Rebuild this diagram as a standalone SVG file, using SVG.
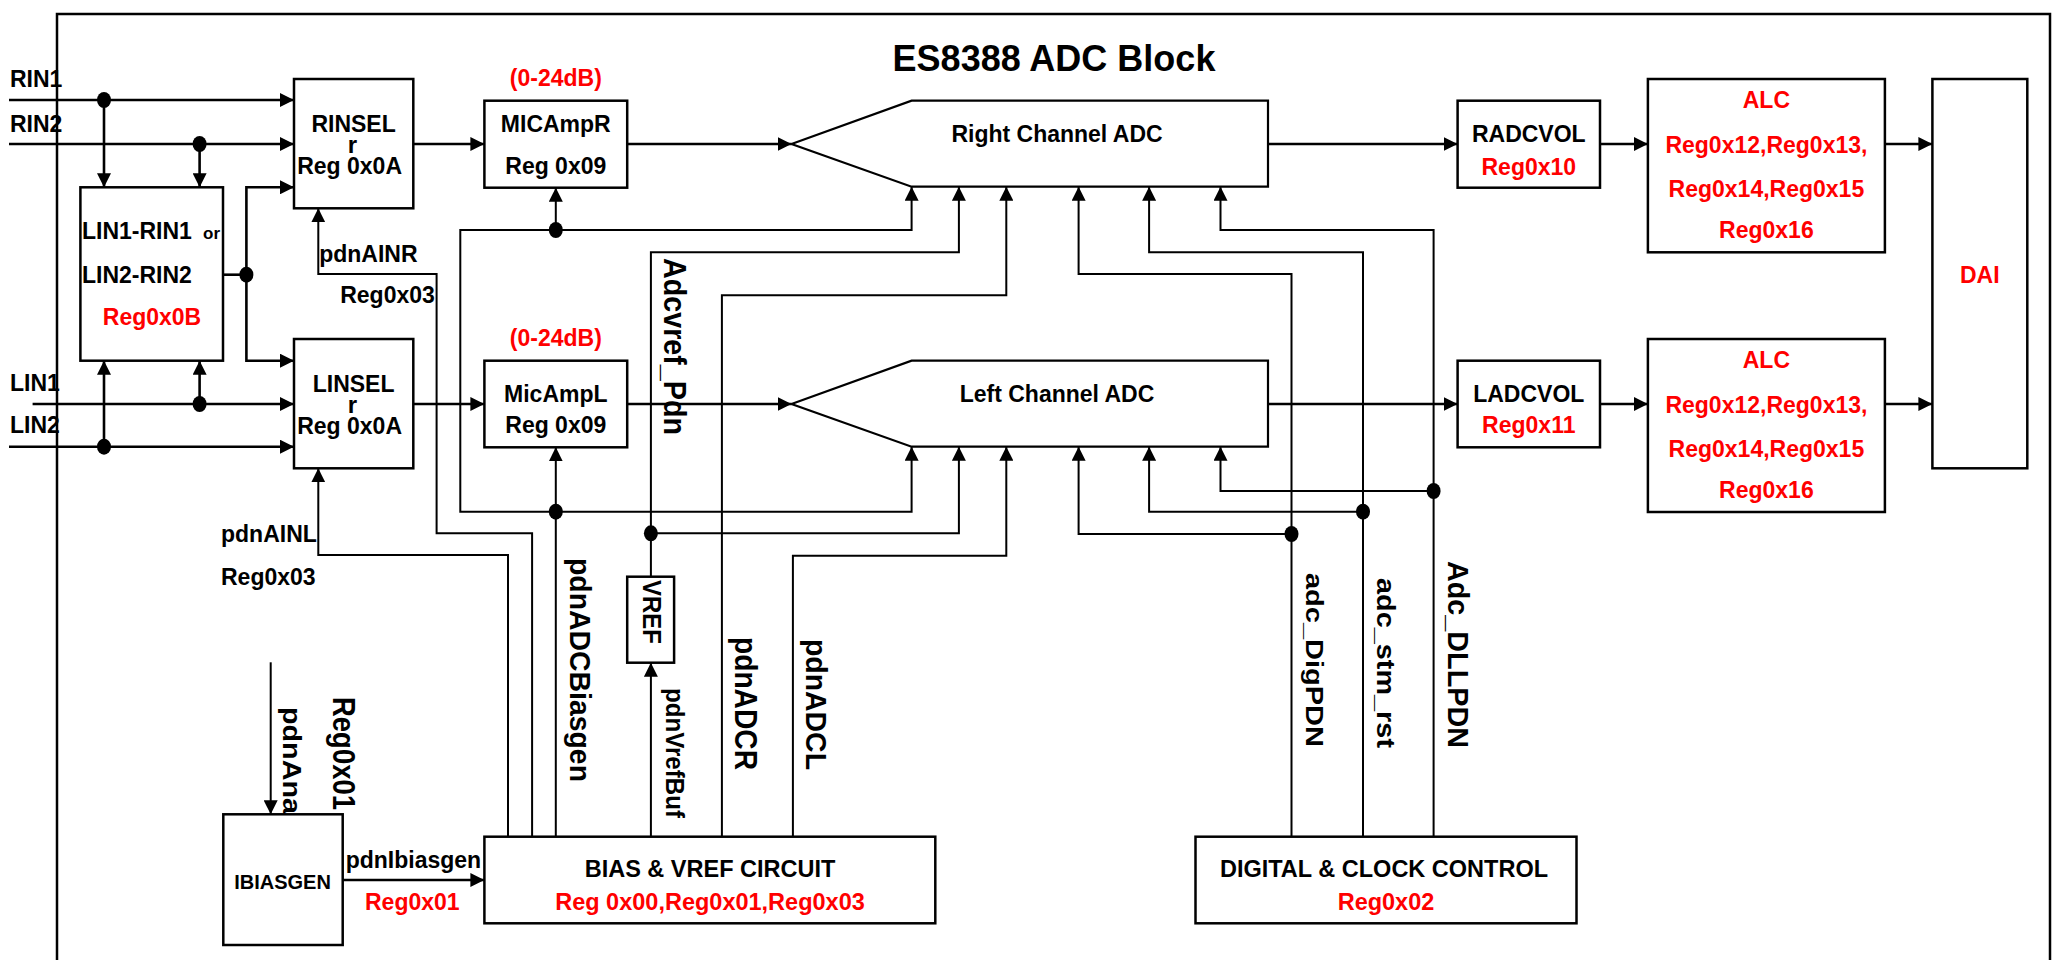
<svg xmlns="http://www.w3.org/2000/svg" width="2059" height="960" viewBox="0 0 2059 960">
<style>
.bx{fill:#fff;stroke:#000;stroke-width:2.5}
.t{font-family:"Liberation Sans",Arial,Helvetica,sans-serif;font-weight:bold;font-size:23px;fill:#000}
.m{text-anchor:middle}
.red{fill:#f00}
.sig{fill:none;stroke:#000;stroke-width:2.6}
.ctl{fill:none;stroke:#000;stroke-width:2}
.arr{marker-end:url(#ah)}
.dot{fill:#000}
</style>
<defs>
<marker id="ah" markerUnits="userSpaceOnUse" markerWidth="15" markerHeight="14" refX="14" refY="7" orient="auto">
<path d="M0,0 L14,7 L0,14 z" fill="#000"/>
</marker>
</defs>
<rect x="0" y="0" width="2059" height="960" fill="#fff"/>
<rect id="frame" x="57" y="14" width="1993" height="1000" fill="none" stroke="#000" stroke-width="2.5"/>
<text class="t m" x="1054" y="71" style="font-size:36px">ES8388 ADC Block</text>

<g id="inputs">
<text class="t" x="10" y="87">RIN1</text>
<text class="t" x="10" y="131.7">RIN2</text>
<text class="t" x="10" y="390.7">LIN1</text>
<text class="t" x="10" y="433.3">LIN2</text>
</g>

<g id="connectors">
<path class="sig arr" d="M9,100 H294"/>
<path class="sig arr" d="M9,144 H294"/>
<path class="sig arr" d="M104,100 V187.3"/>
<path class="sig arr" d="M199.6,144 V187.3"/>
<path class="sig arr" d="M32.6,404 H294"/>
<path class="sig arr" d="M9,446.7 H294"/>
<path class="sig arr" d="M199.6,404 V360.7"/>
<path class="sig arr" d="M104,446.7 V360.7"/>
<path class="sig" d="M223,274.7 H246.4"/>
<path class="sig arr" d="M246.4,274.7 V187.3 H294"/>
<path class="sig arr" d="M246.4,274.7 V360.7 H294"/>
<path class="sig arr" d="M413.3,144 H484.4"/>
<path class="sig arr" d="M413.3,404 H484.4"/>
<path class="sig arr" d="M627.2,144 H791.5"/>
<path class="sig arr" d="M627.2,404 H791.5"/>
<path class="sig arr" d="M1268,144 H1457.6"/>
<path class="sig arr" d="M1268,404 H1457.6"/>
<path class="sig arr" d="M1600,144 H1647.9"/>
<path class="sig arr" d="M1600,404 H1647.9"/>
<path class="sig arr" d="M1884.9,144 H1932.4"/>
<path class="sig arr" d="M1884.9,404 H1932.4"/>
<path class="sig arr" d="M342.7,880 H484.4"/>
<path class="ctl arr" d="M270.7,662.3 V814.3"/>

<path class="ctl arr" d="M532.1,836.7 V533.3 H436.6 V274 H318.3 V208.3"/>
<path class="ctl arr" d="M508,836.7 V555 H318.3 V468.3"/>

<path class="ctl arr" d="M555.8,836.7 V447.3"/>
<path class="ctl arr" d="M555.8,511.7 H460.3 V230 H911.6 V186.7"/>
<path class="ctl arr" d="M555.8,230 V187.7"/>
<path class="ctl arr" d="M555.8,511.7 H911.6 V446.7"/>

<path class="ctl arr" d="M650.9,576.7 V252.3 H958.9 V186.7"/>
<path class="ctl arr" d="M650.9,533.3 H958.9 V446.7"/>
<path class="ctl arr" d="M650.9,836.7 V662.7"/>

<path class="ctl arr" d="M721.9,836.7 V295.3 H1006.3 V186.7"/>
<path class="ctl arr" d="M792.9,836.7 V555.7 H1006.3 V446.7"/>

<path class="ctl arr" d="M1291.5,836.7 V274 H1078.6 V186.7"/>
<path class="ctl arr" d="M1291.5,534 H1078.6 V446.7"/>
<path class="ctl arr" d="M1363,836.7 V252.3 H1149.1 V186.7"/>
<path class="ctl arr" d="M1363,511.7 H1149.1 V446.7"/>
<path class="ctl arr" d="M1433.6,836.7 V230 H1220.5 V186.7"/>
<path class="ctl arr" d="M1433.6,491 H1220.5 V446.7"/>

<ellipse class="dot" cx="104" cy="100" rx="7" ry="8"/>
<ellipse class="dot" cx="199.6" cy="144" rx="7" ry="8"/>
<ellipse class="dot" cx="246.4" cy="274.7" rx="7" ry="8"/>
<ellipse class="dot" cx="199.6" cy="404" rx="7" ry="8"/>
<ellipse class="dot" cx="104" cy="446.7" rx="7" ry="8"/>
<ellipse class="dot" cx="555.8" cy="230" rx="7" ry="8"/>
<ellipse class="dot" cx="555.8" cy="511.7" rx="7" ry="8"/>
<ellipse class="dot" cx="650.9" cy="533.3" rx="7" ry="8"/>
<ellipse class="dot" cx="1291.5" cy="534" rx="7" ry="8"/>
<ellipse class="dot" cx="1363" cy="511.7" rx="7" ry="8"/>
<ellipse class="dot" cx="1433.6" cy="491" rx="7" ry="8"/>
</g>

<g id="mux">
<rect class="bx" x="80.4" y="187.3" width="142.6" height="173.4"/>
<text class="t" x="82" y="239.3">LIN1-RIN1</text>
<text class="t" x="203" y="239.3" style="font-size:17px">or</text>
<text class="t" x="82" y="282.7">LIN2-RIN2</text>
<text class="t m red" x="152" y="325">Reg0x0B</text>
</g>

<g id="rinsel">
<rect class="bx" x="294" y="79" width="119.3" height="129.3"/>
<text class="t m" x="353.6" y="131.7">RINSEL</text>
<text class="t m" x="352.3" y="153.3" style="font-size:24px">r</text>
<text class="t m" x="349.6" y="174">Reg 0x0A</text>
</g>
<g id="linsel">
<rect class="bx" x="294" y="339" width="119.3" height="129.3"/>
<text class="t m" x="353.6" y="391.7">LINSEL</text>
<text class="t m" x="352.3" y="413.3" style="font-size:24px">r</text>
<text class="t m" x="349.6" y="433.5">Reg 0x0A</text>
</g>

<g id="micampr">
<text class="t m red" x="555.8" y="86">(0-24dB)</text>
<rect class="bx" x="484.4" y="100.7" width="142.8" height="87"/>
<text class="t m" x="555.8" y="131.7">MICAmpR</text>
<text class="t m" x="555.8" y="174">Reg 0x09</text>
</g>
<g id="micampl">
<text class="t m red" x="555.8" y="346">(0-24dB)</text>
<rect class="bx" x="484.4" y="360.7" width="142.8" height="86.6"/>
<text class="t m" x="555.8" y="401.7">MicAmpL</text>
<text class="t m" x="555.8" y="433.3">Reg 0x09</text>
</g>

<g id="radc">
<polygon class="bx" style="stroke-width:2.2" points="791.5,144 911.6,100.7 1268,100.7 1268,186.7 911.6,186.7"/>
<text class="t m" x="1057" y="141.7">Right Channel ADC</text>
</g>
<g id="ladc">
<polygon class="bx" style="stroke-width:2.2" points="791.5,404 911.6,360.7 1268,360.7 1268,446.7 911.6,446.7"/>
<text class="t m" x="1057" y="401.7">Left Channel ADC</text>
</g>

<g id="radcvol">
<rect class="bx" x="1457.6" y="100.7" width="142.4" height="87"/>
<text class="t m" x="1528.8" y="141.7">RADCVOL</text>
<text class="t m red" x="1528.8" y="175">Reg0x10</text>
</g>
<g id="ladcvol">
<rect class="bx" x="1457.6" y="360.7" width="142.4" height="86.6"/>
<text class="t m" x="1528.8" y="401.7">LADCVOL</text>
<text class="t m red" x="1528.8" y="433.3">Reg0x11</text>
</g>

<g id="alcr">
<rect class="bx" x="1647.9" y="79" width="237" height="173.3"/>
<text class="t m red" x="1766.4" y="108.3">ALC</text>
<text class="t m red" x="1766.4" y="153.3">Reg0x12,Reg0x13,</text>
<text class="t m red" x="1766.4" y="196.7">Reg0x14,Reg0x15</text>
<text class="t m red" x="1766.4" y="238.3">Reg0x16</text>
</g>
<g id="alcl">
<rect class="bx" x="1647.9" y="339" width="237" height="173"/>
<text class="t m red" x="1766.4" y="368.3">ALC</text>
<text class="t m red" x="1766.4" y="413.3">Reg0x12,Reg0x13,</text>
<text class="t m red" x="1766.4" y="456.7">Reg0x14,Reg0x15</text>
<text class="t m red" x="1766.4" y="498.3">Reg0x16</text>
</g>

<g id="dai">
<rect class="bx" x="1932.4" y="79" width="94.9" height="389.3"/>
<text class="t m red" x="1979.8" y="282.7">DAI</text>
</g>

<g id="vref">
<rect class="bx" x="627.2" y="576.7" width="46.9" height="86"/>
<text class="t" transform="translate(643,580) rotate(90)" style="font-size:26px" textLength="64" lengthAdjust="spacingAndGlyphs">VREF</text>
</g>

<g id="ibiasgen">
<rect class="bx" x="223.3" y="814.3" width="119.4" height="130.7"/>
<text class="t m" x="282.5" y="889.3" style="font-size:20px">IBIASGEN</text>
</g>

<g id="bias">
<rect class="bx" x="484.4" y="836.7" width="450.9" height="86.6"/>
<text class="t m" x="710" y="876.7" style="font-size:23.5px">BIAS &amp; VREF CIRCUIT</text>
<text class="t m red" x="710" y="910" style="font-size:23.5px">Reg 0x00,Reg0x01,Reg0x03</text>
</g>

<g id="digital">
<rect class="bx" x="1195.5" y="836.7" width="381" height="86.6"/>
<text class="t m" x="1384" y="876.7" style="font-size:23.5px">DIGITAL &amp; CLOCK CONTROL</text>
<text class="t m red" x="1386" y="910" style="font-size:23.5px">Reg0x02</text>
</g>

<g id="labels">
<text class="t" x="319.2" y="261.7">pdnAINR</text>
<text class="t" x="340.2" y="303.3">Reg0x03</text>
<text class="t" x="221" y="541.7">pdnAINL</text>
<text class="t" x="221" y="585">Reg0x03</text>
<text class="t" x="345.7" y="868.3">pdnIbiasgen</text>
<text class="t red" x="365" y="910">Reg0x01</text>
<text class="t" transform="translate(664,258) rotate(90)" style="font-size:32px" textLength="177" lengthAdjust="spacingAndGlyphs">Adcvref_Pdn</text>
<text class="t" transform="translate(570,558) rotate(90)" style="font-size:30px" textLength="224" lengthAdjust="spacingAndGlyphs">pdnADCBiasgen</text>
<text class="t" transform="translate(666,688) rotate(90)" style="font-size:26px" textLength="130" lengthAdjust="spacingAndGlyphs">pdnVrefBuf</text>
<text class="t" transform="translate(735,637) rotate(90)" style="font-size:32px" textLength="133" lengthAdjust="spacingAndGlyphs">pdnADCR</text>
<text class="t" transform="translate(806,639) rotate(90)" style="font-size:30px" textLength="131" lengthAdjust="spacingAndGlyphs">pdnADCL</text>
<text class="t" transform="translate(1306,573) rotate(90)" style="font-size:24px" textLength="174" lengthAdjust="spacingAndGlyphs">adc_DigPDN</text>
<text class="t" transform="translate(1377,578) rotate(90)" style="font-size:25px" textLength="170" lengthAdjust="spacingAndGlyphs">adc_stm_rst</text>
<text class="t" transform="translate(1448,561) rotate(90)" style="font-size:30px" textLength="187" lengthAdjust="spacingAndGlyphs">Adc_DLLPDN</text>
<text class="t" transform="translate(283,707) rotate(90)" style="font-size:26px" textLength="107" lengthAdjust="spacingAndGlyphs">pdnAna</text>
<text class="t" transform="translate(333,697) rotate(90)" style="font-size:31px" textLength="113" lengthAdjust="spacingAndGlyphs">Reg0x01</text>
</g>
</svg>
